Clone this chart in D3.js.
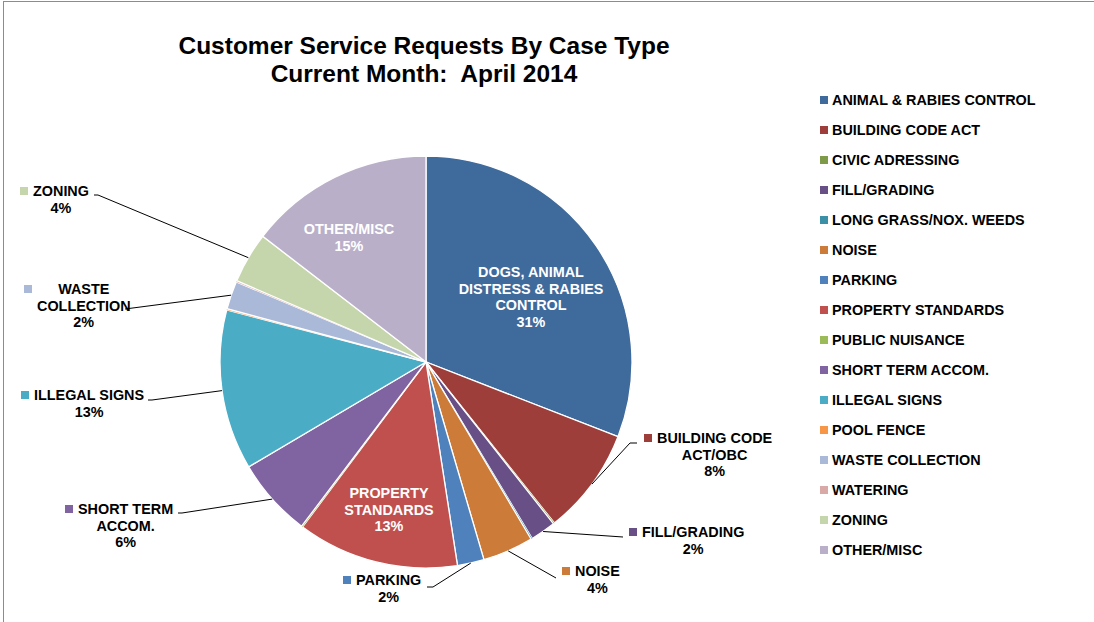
<!DOCTYPE html>
<html>
<head>
<meta charset="utf-8">
<script src="https://cdn.jsdelivr.net/npm/d3@7"></script>
<style>
  body { margin: 0; background: #fff; }
  svg text { font-family: Arial, "Liberation Sans", sans-serif; font-weight: bold; white-space: pre; }
</style>
</head>
<body>
<svg id="chart" width="1094" height="622"></svg>
<script>
var categories = ['ANIMAL & RABIES CONTROL', 'BUILDING CODE ACT', 'CIVIC ADRESSING', 'FILL/GRADING',
  'LONG GRASS/NOX. WEEDS', 'NOISE', 'PARKING', 'PROPERTY STANDARDS', 'PUBLIC NUISANCE',
  'SHORT TERM ACCOM.', 'ILLEGAL SIGNS', 'POOL FENCE', 'WASTE COLLECTION', 'WATERING', 'ZONING', 'OTHER/MISC'];
var counts = [310, 84, 1, 20, 1, 40, 21, 127, 1, 62, 126, 1, 22, 1, 40, 146];
var colors = ['#3f6a9c', '#9d3e3b', '#7f9a48', '#684f86', '#3b8fa6', '#cc7b38', '#4f81bd', '#c0504d',
  '#9bbb59', '#8064a2', '#4bacc6', '#f79646', '#aab9d7', '#d9a9a8', '#c6d6ac', '#baafc9'];
// text shown on the slice labels (differs from legend for a couple of them)
var sliceNames = ['DOGS, ANIMAL|DISTRESS & RABIES|CONTROL', 'BUILDING CODE|ACT/OBC', null, 'FILL/GRADING',
  null, 'NOISE', 'PARKING', 'PROPERTY|STANDARDS', null, 'SHORT TERM|ACCOM.', 'ILLEGAL SIGNS', null,
  'WASTE|COLLECTION', null, 'ZONING', 'OTHER/MISC'];

var svg = d3.select('#chart')
  , cx = 426
  , cy = 362
  , radius = 206
  , lineH = 16.7
  , keySize = 8
  , fontSize = '14.4px'
  ;

// chart frame
svg.append('rect')
    .attr('x', 3.5).attr('y', 1.5).attr('width', 1200).attr('height', 700)
    .attr('fill', 'none').attr('stroke', '#8c8c8c').attr('stroke-width', 1);

svg.append('text').attr('x', 424).attr('y', 54).attr('text-anchor', 'middle')
    .style('font-size', '24.5px').text('Customer Service Requests By Case Type');
svg.append('text').attr('x', 424).attr('y', 82).attr('text-anchor', 'middle')
    .style('font-size', '24.5px').text('Current Month:  April 2014');

var total = d3.sum(counts);
var pct = function (v) { return Math.round(v / total * 100) + '%'; };

var pie = d3.pie().sort(null).value(function (d) { return d; });
var arcs = pie(counts);
var arc = d3.arc().innerRadius(0).outerRadius(radius);

var g = svg.append('g').attr('transform', 'translate(' + cx + ',' + cy + ')');

g.selectAll('path')
    .data(arcs)
  .enter().append('path')
    .attr('d', arc)
    .attr('fill', function (d, i) { return colors[i]; })
    .attr('stroke', '#fff')
    .attr('stroke-width', function (d) { return d.value > 2 ? 1.3 : 0.3; });

// inside labels: index -> centre of text block (relative to page)
var inside = { 0: [531, 272], 7: [389, 493], 15: [349, 229] };
Object.keys(inside).forEach(function (k) {
  var i = +k, lines = sliceNames[i].split('|').concat([pct(counts[i])]);
  var t = svg.append('text').attr('text-anchor', 'middle').attr('fill', '#fff')
      .style('font-size', fontSize);
  lines.forEach(function (l, j) {
    t.append('tspan').attr('x', inside[k][0]).attr('y', inside[k][1] + j * lineH + 5).text(l);
  });
});

// outside labels: key left x, first line centre y, leader path end points
var outside = {
  1: { x: 644, y: 438, lead: [[630, 443], [637, 443]] },
  3: { x: 629, y: 532, lead: [[623, 537]] },
  5: { x: 562, y: 571, lead: [[556, 578]] },
  6: { x: 343, y: 580, lead: [[433, 587], [427, 587]] },
  9: { x: 65, y: 509, lead: [[182, 513], [178, 513]] },
  10: { x: 21, y: 395, lead: [[152, 400], [148, 400]] },
  12: { x: 24, y: 289, lead: [[125, 309]] },
  14: { x: 20, y: 191, lead: [[98, 195], [94, 195]] }
};

Object.keys(outside).forEach(function (k) {
  var i = +k, o = outside[k], a = arcs[i];
  var mid = (a.startAngle + a.endAngle) / 2;
  var start = [cx + radius * Math.sin(mid), cy - radius * Math.cos(mid)];
  svg.append('path')
      .attr('d', d3.line()([start].concat(o.lead)))
      .attr('fill', 'none').attr('stroke', '#000').attr('stroke-width', 1);

  var lines = sliceNames[i].split('|').concat([pct(counts[i])]);
  var t = svg.append('text').attr('text-anchor', 'middle').attr('fill', '#000')
      .style('font-size', fontSize);
  var spans = lines.map(function (l, j) {
    return t.append('tspan').attr('y', o.y + j * lineH + 5).text(l);
  });
  var maxW = d3.max(spans, function (s) { return s.node().getComputedTextLength(); });
  var mx = o.x + keySize + 5 + maxW / 2;
  spans.forEach(function (s) { s.attr('x', mx); });
  svg.append('rect').attr('x', o.x).attr('y', o.y - keySize / 2)
      .attr('width', keySize).attr('height', keySize).attr('fill', colors[i]);
});

// legend
var legend = svg.append('g').attr('transform', 'translate(820,100)');
var item = legend.selectAll('g')
    .data(categories)
  .enter().append('g')
    .attr('transform', function (d, i) { return 'translate(0,' + i * 30.0 + ')'; });
item.append('rect')
    .attr('x', 0).attr('y', -4).attr('width', keySize).attr('height', keySize)
    .attr('fill', function (d, i) { return colors[i]; });
item.append('text')
    .attr('x', 12).attr('y', 5)
    .style('font-size', fontSize)
    .text(function (d) { return d; });
</script>
</body>
</html>
